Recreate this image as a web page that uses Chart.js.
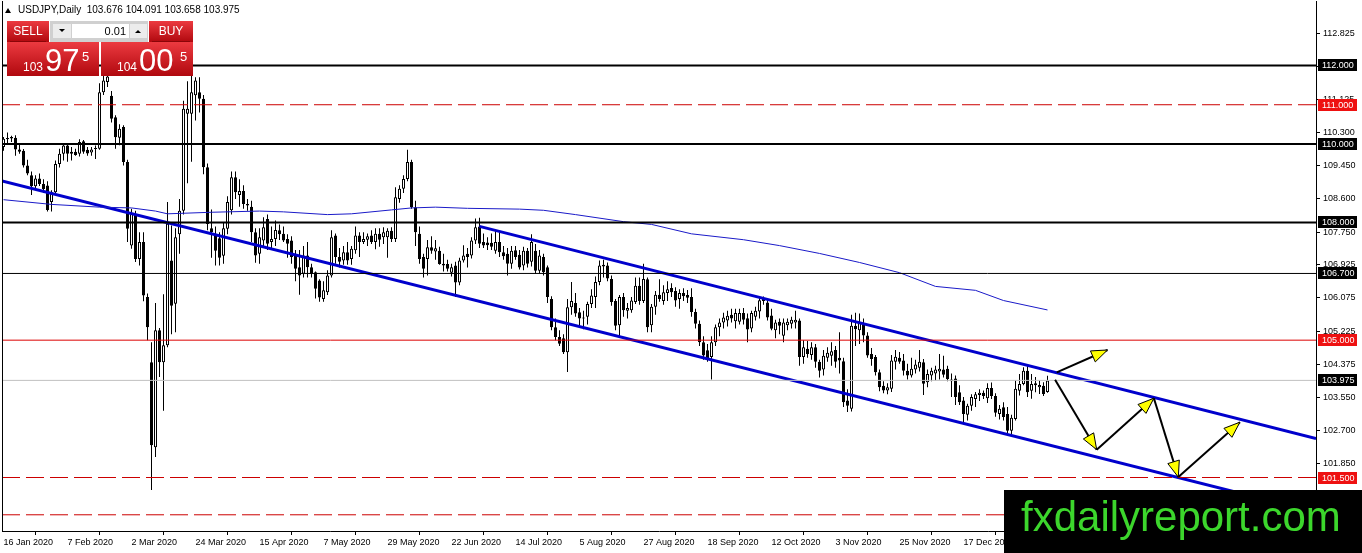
<!DOCTYPE html>
<html>
<head>
<meta charset="utf-8">
<script src="https://cdn.jsdelivr.net/npm/chart.js@4.4.1/dist/chart.umd.min.js"></script>
<style>
  html, body { margin: 0; padding: 0; background: #fff; }
  canvas { display: block; }
</style>
</head>
<body>
<canvas id="chart" width="1362" height="553"></canvas>
<script>
// USDJPY daily, 16 Jan 2020 .. mid Jan 2021
const opens = [
  109.92,110.12,110.14,110.16,109.86,109.83,109.45,109.20,108.92,109.12,
  108.98,108.94,108.52,108.77,109.49,109.75,109.96,109.75,109.80,109.75,
  110.07,109.85,109.78,109.87,109.88,111.32,111.58,111.23,110.68,110.16,
  110.43,109.54,107.41,108.22,107.07,107.50,106.10,104.44,102.27,105.25,
  104.44,104.87,107.03,105.93,107.70,108.30,110.77,110.77,111.24,111.32,
  111.15,109.41,107.85,107.71,107.60,107.15,107.84,108.31,109.15,108.70,
  108.80,108.47,108.40,107.75,107.20,107.54,108.09,107.50,107.58,107.80,
  107.71,107.58,107.54,107.20,106.86,106.69,107.16,106.86,106.73,106.52,
  106.05,106.22,106.65,107.67,107.12,107.03,107.24,107.07,107.29,107.67,
  107.50,107.56,107.67,107.50,107.71,107.62,107.62,107.79,107.58,108.60,
  108.86,109.11,109.54,108.39,107.71,107.12,107.07,107.37,107.26,107.28,
  106.95,106.94,106.72,106.90,106.47,107.03,107.20,107.16,107.54,107.90,
  107.50,107.49,107.48,107.28,107.50,107.24,107.20,106.95,107.29,107.18,
  106.90,107.28,107.00,107.28,106.77,107.12,106.86,106.05,105.33,105.08,
  105.05,104.69,105.84,105.95,105.71,105.55,105.60,105.92,106.10,106.48,
  106.88,106.90,106.56,106.00,105.38,106.10,105.75,105.76,105.97,106.39,
  106.00,106.55,105.38,105.85,106.16,106.00,106.20,106.33,106.25,106.05,
  106.20,106.15,106.10,105.72,105.42,104.95,104.74,104.57,104.95,105.33,
  105.45,105.50,105.65,105.48,105.47,105.69,105.56,105.30,105.60,105.73,
  106.00,105.96,105.63,105.25,105.47,105.11,105.38,105.42,105.45,105.50,
  104.57,104.78,104.62,104.82,104.45,104.25,104.55,104.60,104.75,104.55,
  104.46,103.46,103.25,105.37,105.25,105.40,105.12,104.65,104.57,104.18,
  103.84,103.72,103.76,104.45,104.55,104.48,104.22,104.10,104.25,104.30,
  104.44,103.93,104.10,104.15,104.20,104.25,104.27,104.00,104.02,103.67,
  103.46,103.10,103.33,103.50,103.60,103.66,103.52,103.78,103.58,103.12,
  103.29,103.12,102.69,102.99,103.71,103.88,104.22,103.71,103.90,103.80,
  103.84,103.676
];
const highs = [
  110.18,110.29,110.21,110.22,110.00,109.87,109.60,109.30,109.20,109.25,
  109.10,109.05,108.82,109.58,109.88,110.00,110.00,109.92,109.88,110.12,
  110.10,109.92,109.92,109.96,111.55,111.85,112.23,111.35,110.73,110.50,
  110.48,109.60,108.35,108.30,107.75,107.75,106.19,104.95,105.95,105.31,
  106.17,108.52,107.92,107.85,108.60,111.10,111.60,111.80,111.70,111.70,
  111.25,109.50,108.33,107.90,107.75,108.00,108.67,109.30,109.30,109.10,
  108.95,108.60,108.55,107.85,107.85,108.13,108.20,107.90,108.05,107.95,
  107.90,107.70,107.65,107.30,107.30,107.40,107.50,106.95,106.75,106.55,
  106.50,106.78,107.80,107.72,107.35,107.40,107.50,107.40,107.90,107.75,
  107.75,107.72,107.80,107.85,107.85,107.88,107.85,107.88,108.90,108.95,
  109.20,109.85,109.60,108.55,107.90,107.20,107.55,107.65,107.55,107.38,
  107.20,107.05,106.95,107.00,107.10,107.42,107.35,107.62,108.10,108.12,
  107.72,107.62,107.72,107.80,107.75,107.40,107.35,107.40,107.40,107.30,
  107.38,107.35,107.70,107.45,107.30,107.20,106.90,106.12,105.55,105.25,
  105.15,106.05,106.48,106.20,105.82,105.75,105.98,106.30,106.62,107.03,
  107.05,106.98,106.65,106.05,106.15,106.20,105.95,106.10,106.60,106.60,
  106.95,106.60,105.92,106.25,106.55,106.40,106.50,106.45,106.35,106.30,
  106.32,106.28,106.32,105.80,105.50,105.10,104.90,105.10,105.40,105.55,
  105.70,105.75,105.80,105.80,105.80,105.82,105.68,105.75,105.85,106.10,
  106.11,106.05,105.80,105.52,105.55,105.55,105.55,105.60,105.75,105.55,
  105.00,104.98,104.95,104.90,104.50,104.75,104.82,104.95,104.85,105.20,
  104.55,103.75,105.65,105.70,105.68,105.55,105.20,104.80,104.62,104.25,
  103.95,103.90,104.62,104.75,104.70,104.65,104.40,104.55,104.50,104.75,
  104.52,104.25,104.30,104.35,104.65,104.60,104.35,104.15,104.10,103.85,
  103.55,103.38,103.62,103.68,103.75,103.72,103.90,103.92,103.65,103.35,
  103.42,103.30,103.10,103.97,104.14,104.31,104.36,104.14,104.06,103.97,
  103.93,104.091
];
const lows = [
  109.83,110.02,110.05,109.70,109.75,109.40,109.20,108.70,108.85,108.93,
  108.75,108.28,108.28,108.72,109.40,109.58,109.55,109.58,109.70,109.68,
  109.75,109.70,109.70,109.62,109.85,111.25,111.45,110.55,109.88,109.97,
  109.45,107.50,107.33,106.99,106.90,105.99,105.00,101.18,102.02,104.06,
  103.20,104.82,105.15,105.20,107.20,108.20,109.00,109.55,110.60,110.80,
  109.23,107.80,107.10,106.90,106.90,106.95,107.70,108.20,108.60,108.40,
  108.35,108.30,107.50,106.97,106.95,107.35,107.30,107.35,107.40,107.55,
  107.50,107.10,106.95,106.50,106.16,106.60,106.60,106.60,106.06,105.98,
  105.98,106.15,106.60,106.95,106.85,106.92,106.92,106.92,107.20,107.12,
  107.45,107.40,107.45,107.32,107.38,107.45,107.10,107.50,107.50,108.50,
  108.75,109.05,108.35,107.40,106.95,106.60,106.65,107.20,107.05,106.92,
  106.75,106.75,106.62,106.10,106.40,106.98,106.85,107.08,107.45,107.35,
  107.35,107.30,107.30,107.20,107.12,107.05,106.65,106.82,107.05,106.80,
  106.78,106.85,106.88,106.70,106.70,106.65,105.95,105.25,105.00,104.85,
  104.65,104.19,105.65,105.60,105.35,105.28,105.40,105.82,105.82,106.40,
  106.60,106.50,105.88,105.25,105.10,105.60,105.55,105.70,105.92,105.90,
  105.95,105.20,105.20,105.65,105.98,105.90,106.00,106.10,105.85,105.80,
  106.00,105.95,105.60,105.30,104.85,104.50,104.45,104.00,104.85,105.10,
  105.30,105.35,105.45,105.30,105.40,105.40,104.95,105.20,105.50,105.55,
  105.90,105.50,105.25,105.05,105.15,104.95,105.25,105.30,105.30,104.35,
  104.40,104.55,104.50,104.30,104.05,104.10,104.45,104.35,104.30,104.15,
  103.30,103.17,103.18,104.85,104.90,104.95,104.55,104.35,104.10,103.70,
  103.65,103.62,103.68,104.25,104.40,104.10,104.00,104.05,104.15,104.20,
  103.60,103.80,103.95,103.98,104.00,104.05,103.95,103.55,103.35,103.35,
  102.88,102.95,103.20,103.30,103.45,103.50,103.40,103.50,103.05,102.98,
  102.95,102.62,102.60,102.95,103.59,103.85,103.55,103.51,103.67,103.63,
  103.58,103.658
];
const closes = [
  110.13,110.15,110.18,109.86,109.80,109.45,109.25,108.92,109.12,108.98,
  108.85,108.32,108.77,109.49,109.75,109.96,109.75,109.80,109.72,110.05,
  109.80,109.76,109.86,109.90,111.32,111.62,111.72,110.64,110.17,110.39,
  109.54,107.84,108.22,107.07,107.50,106.14,105.33,102.32,105.25,104.44,
  104.87,107.97,105.88,107.62,108.30,110.90,110.90,111.32,111.62,111.15,
  109.41,107.96,107.75,107.28,107.10,107.85,108.52,109.15,108.77,108.80,
  108.47,108.43,107.75,107.16,107.62,107.88,107.46,107.58,107.81,107.70,
  107.54,107.46,107.12,106.82,106.65,107.16,106.86,106.69,106.31,106.09,
  106.27,106.65,107.62,107.12,107.00,107.24,107.03,107.33,107.67,107.50,
  107.58,107.65,107.50,107.71,107.56,107.75,107.79,107.58,108.64,108.86,
  109.11,109.54,108.39,107.75,107.07,106.82,107.37,107.28,107.34,106.94,
  106.90,106.82,106.86,106.47,107.03,107.16,107.12,107.54,107.88,107.46,
  107.41,107.42,107.38,107.50,107.24,107.14,106.95,107.28,107.12,106.85,
  107.28,106.95,107.50,106.77,107.16,106.73,106.10,105.33,105.08,104.91,
  104.69,105.84,106.00,105.68,105.55,105.58,105.92,106.14,106.48,106.90,
  106.92,106.57,105.97,105.37,106.10,105.76,105.82,106.01,106.39,106.00,
  106.56,105.33,105.85,106.16,106.05,106.22,106.30,106.22,106.01,106.20,
  106.12,106.08,105.72,105.42,104.95,104.61,104.53,104.95,105.33,105.45,
  105.58,105.62,105.55,105.69,105.69,105.52,105.27,105.69,105.75,106.02,
  106.05,105.58,105.29,105.45,105.37,105.45,105.47,105.52,105.52,104.57,
  104.82,104.65,104.82,104.45,104.22,104.60,104.68,104.72,104.45,104.48,
  103.42,103.33,105.37,105.28,105.45,105.12,104.61,104.52,104.18,103.80,
  103.72,103.80,104.48,104.58,104.45,104.22,104.10,104.27,104.38,104.45,
  103.89,104.14,104.22,104.25,104.27,104.12,104.01,103.95,103.55,103.42,
  103.12,103.33,103.55,103.62,103.66,103.58,103.78,103.58,103.15,103.25,
  103.04,102.69,103.02,103.76,103.88,104.22,103.67,103.88,103.85,103.86,
  103.63,103.975
];

// moving average, sampled along its path (bar index, price)
const maIdx = [0, 12, 24, 32, 38, 41, 52, 64, 70, 81, 87, 97, 102, 108, 116, 129, 135, 143, 155, 162, 172, 185, 194, 204, 214, 224, 233, 243, 250, 261];
const maVal = [108.58, 108.46, 108.39, 108.37, 108.29, 108.22, 108.26, 108.29, 108.27, 108.20, 108.22, 108.32, 108.37, 108.39, 108.36, 108.34, 108.31, 108.20, 108.02, 107.95, 107.71, 107.56, 107.41, 107.21, 106.98, 106.72, 106.37, 106.27, 106.01, 105.77];

// date labels every 16 bars
const dateIdx = [0, 16, 32, 48, 64, 80, 96, 112, 128, 144, 160, 176, 192, 208, 224, 240];
const dateLabels = ['16 Jan 2020', '7 Feb 2020', '2 Mar 2020', '24 Mar 2020', '15 Apr 2020', '7 May 2020', '29 May 2020', '22 Jun 2020', '14 Jul 2020', '5 Aug 2020', '27 Aug 2020', '18 Sep 2020', '12 Oct 2020', '3 Nov 2020', '25 Nov 2020', '17 Dec 2020'];

// price scale ticks
const priceTicks = [112.825, 111.975, 111.125, 110.300, 109.450, 108.600, 107.750, 106.925, 106.075, 105.225, 104.375, 103.550, 102.700, 101.850];

// horizontal levels
const levelPrices = [112.000, 111.000, 110.000, 108.000, 106.700, 105.000, 103.975, 101.500, 100.550];

// trend channel (bar index, price)
const upperChannel = [[119, 107.90], [328.125, 102.49]];
const lowerChannel = [[-0.375, 109.06], [328.125, 100.615]];

// projected path arrows (bar index, price): from -> to
const arrowPaths = [
  [[263.3, 104.18], [276.0, 104.75]],
  [[262.9, 103.99], [273.3, 102.21]],
  [[273.3, 102.21], [287.6, 103.52]],
  [[287.6, 103.52], [293.7, 101.51]],
  [[293.7, 101.51], [309.1, 102.91]]
];

// ---------- styles ----------
const levelStyles = [
  { color: '#000000', width: 2, dash: [], tag: '#000000' },
  { color: '#cc0000', width: 1, dash: [18, 6], tag: '#ee1111' },
  { color: '#000000', width: 2, dash: [], tag: '#000000' },
  { color: '#000000', width: 2, dash: [], tag: '#000000' },
  { color: '#000000', width: 1, dash: [], tag: '#000000' },
  { color: '#dd0000', width: 1, dash: [], tag: '#ee1111' },
  { color: '#c0c0c0', width: 1, dash: [], tag: '#000000' },
  { color: '#cc0000', width: 1, dash: [18, 6], tag: '#ee1111' },
  { color: '#cc0000', width: 1, dash: [18, 6], tag: null }
];

const xMin = -0.375, xMax = 328.125;
const yMin = 100.1367, yMax = 113.6437;

Chart.defaults.font.family = '"Liberation Sans", Arial, sans-serif';
Chart.defaults.font.size = 9;
Chart.defaults.color = '#000';

const isUp = i => closes[i] >= opens[i];

const datasets = [];

// level lines
levelPrices.forEach((p, k) => {
  const st = levelStyles[k];
  datasets.push({
    type: 'line', order: 1,
    data: [{ x: xMin, y: p }, { x: xMax, y: p }],
    borderColor: st.color, borderWidth: st.width, borderDash: st.dash,
    pointRadius: 0, fill: false
  });
});

// moving average
datasets.push({
  type: 'line', order: 1,
  data: maIdx.map((x, k) => ({ x: x, y: maVal[k] })),
  borderColor: '#1a1ac8', borderWidth: 1, pointRadius: 0, fill: false, tension: 0
});

// channel lines
[upperChannel, lowerChannel].forEach(line => {
  datasets.push({
    type: 'line', order: 1,
    data: line.map(p => ({ x: p[0], y: p[1] })),
    borderColor: '#0000cc', borderWidth: 3, pointRadius: 0, fill: false
  });
});

// arrows
arrowPaths.forEach(path => {
  datasets.push({
    type: 'line', order: 0, arrow: true,
    data: path.map(p => ({ x: p[0], y: p[1] })),
    borderColor: '#000000', borderWidth: 2, pointRadius: 0, fill: false
  });
});

// candle bodies
datasets.push({
  type: 'bar', order: 2, grouped: false,
  data: opens.map((o, i) => ({ x: i, y: [o, closes[i]] })),
  barThickness: 3,
  backgroundColor: c => isUp(c.dataIndex) ? '#ffffff' : '#000000',
  borderColor: '#000000', borderWidth: 1, borderSkipped: false,
  inflateAmount: 0, minBarLength: 1
});

// candle wicks
datasets.push({
  type: 'bar', order: 3, grouped: false,
  data: lows.map((l, i) => ({ x: i, y: [l, highs[i]] })),
  barThickness: 1, backgroundColor: '#000000', borderWidth: 0, inflateAmount: 0
});

// yellow arrow heads at the end of each arrow line
const arrowHeads = {
  id: 'arrowHeads',
  afterDatasetsDraw(chart) {
    const ctx = chart.ctx;
    chart.data.datasets.forEach((ds, di) => {
      if (!ds.arrow) return;
      const pts = chart.getDatasetMeta(di).data;
      const a = pts[0], b = pts[1];
      const ang = Math.atan2(b.y - a.y, b.x - a.x);
      const len = 16, half = 6;
      const bx = b.x - len * Math.cos(ang), by = b.y - len * Math.sin(ang);
      const px = -Math.sin(ang) * half, py = Math.cos(ang) * half;
      ctx.save();
      ctx.beginPath();
      ctx.moveTo(b.x, b.y);
      ctx.lineTo(bx + px, by + py);
      ctx.lineTo(bx - px, by - py);
      ctx.closePath();
      ctx.fillStyle = '#ffff00';
      ctx.fill();
      ctx.lineWidth = 1;
      ctx.strokeStyle = '#000';
      ctx.stroke();
      ctx.restore();
    });
  }
};

function redBox(ctx, x, y, w, h) {
  const g = ctx.createLinearGradient(0, y, 0, y + h);
  g.addColorStop(0, '#ec3a40');
  g.addColorStop(1, '#b0080e');
  ctx.fillStyle = g;
  ctx.fillRect(x, y, w, h);
}

const overlay = {
  id: 'overlay',
  afterDraw(chart) {
    const ctx = chart.ctx;
    const ys = chart.scales.y;
    const area = chart.chartArea;
    ctx.save();

    // left frame line
    ctx.fillStyle = '#000';
    ctx.fillRect(area.left, area.top, 1, area.bottom - area.top);

    // price tags on the right scale
    ctx.font = '9px "Liberation Sans", Arial, sans-serif';
    ctx.textBaseline = 'middle';
    ctx.textAlign = 'left';
    levelPrices.forEach((p, k) => {
      const tag = levelStyles[k].tag;
      if (!tag) return;
      const py = Math.round(ys.getPixelForValue(p));
      ctx.fillStyle = tag;
      ctx.fillRect(1318, py - 6, 39, 12);
      ctx.fillStyle = '#fff';
      ctx.fillText(p.toFixed(3), 1322, py + 0.5);
    });

    // header
    ctx.fillStyle = '#000';
    ctx.beginPath();
    ctx.moveTo(5, 13); ctx.lineTo(11, 13); ctx.lineTo(8, 8); ctx.closePath();
    ctx.fill();
    ctx.font = '10px "Liberation Sans", Arial, sans-serif';
    ctx.fillText('USDJPY,Daily  103.676 104.091 103.658 103.975', 18, 10.5);

    // one-click trading panel
    redBox(ctx, 7, 21, 42, 21);
    redBox(ctx, 149, 21, 44, 21);
    redBox(ctx, 7, 42, 92, 34);
    redBox(ctx, 101, 42, 92, 34);
    ctx.fillStyle = '#8a0508';
    ctx.fillRect(10, 41, 36, 1);
    ctx.fillRect(152, 41, 38, 1);

    ctx.fillStyle = '#d0d0d0';
    ctx.fillRect(50, 21, 98, 21);
    ctx.fillStyle = '#ececec';
    ctx.fillRect(53, 24, 18, 14);
    ctx.fillRect(130, 24, 17, 14);
    ctx.fillStyle = '#ffffff';
    ctx.fillRect(72, 24, 57, 14);
    ctx.fillStyle = '#000';
    ctx.beginPath();
    ctx.moveTo(59, 29); ctx.lineTo(65, 29); ctx.lineTo(62, 32); ctx.closePath(); ctx.fill();
    ctx.beginPath();
    ctx.moveTo(135, 33); ctx.lineTo(141, 33); ctx.lineTo(138, 30); ctx.closePath(); ctx.fill();
    ctx.font = '11px "Liberation Sans", Arial, sans-serif';
    ctx.textAlign = 'right';
    ctx.fillText('0.01', 126, 31.5);

    ctx.fillStyle = '#fff';
    ctx.textAlign = 'center';
    ctx.font = '12px "Liberation Sans", Arial, sans-serif';
    ctx.fillText('SELL', 28, 32);
    ctx.fillText('BUY', 171, 32);

    ctx.textAlign = 'left';
    ctx.textBaseline = 'alphabetic';
    ctx.font = '12px "Liberation Sans", Arial, sans-serif';
    ctx.fillText('103', 23, 71);
    ctx.fillText('104', 117, 71);
    ctx.font = '31px "Liberation Sans", Arial, sans-serif';
    ctx.fillText('97', 45, 71);
    ctx.fillText('00', 139, 71);
    ctx.font = '13px "Liberation Sans", Arial, sans-serif';
    ctx.fillText('5', 82, 61);
    ctx.fillText('5', 180, 61);

    // watermark
    ctx.fillStyle = '#000';
    ctx.fillRect(1004, 490, 358, 63);
    ctx.fillStyle = '#3cd62c';
    ctx.font = '42px "Liberation Sans", Arial, sans-serif';
    ctx.fillText('fxdailyreport.com', 1021, 531);

    ctx.restore();
  }
};

new Chart(document.getElementById('chart'), {
  type: 'bar',
  data: { datasets: datasets },
  plugins: [arrowHeads, overlay],
  options: {
    responsive: false,
    animation: false,
    devicePixelRatio: 1,
    events: [],
    layout: { padding: { left: 2, top: 1, right: 0, bottom: 0 } },
    plugins: { legend: { display: false }, tooltip: { enabled: false } },
    scales: {
      x: {
        type: 'linear', min: xMin, max: xMax, offset: false,
        grid: { drawOnChartArea: false, drawTicks: true, tickLength: 4, color: '#000' },
        border: { display: true, color: '#000', width: 1 },
        ticks: {
          autoSkip: false, maxRotation: 0, minRotation: 0, align: 'start', padding: 2,
          font: { size: 9 }, color: '#000',
          callback: (v, k) => dateLabels[k]
        },
        afterBuildTicks: s => { s.ticks = dateIdx.map(v => ({ value: v })); },
        afterFit: s => { s.height = 22; s.paddingLeft = 0; s.paddingRight = 0; }
      },
      y: {
        type: 'linear', position: 'right', min: yMin, max: yMax,
        grid: { drawOnChartArea: false, drawTicks: true, tickLength: 4, color: '#000' },
        border: { display: true, color: '#000', width: 1 },
        ticks: {
          padding: 3, font: { size: 9 }, color: '#000',
          callback: v => v.toFixed(3)
        },
        afterBuildTicks: s => { s.ticks = priceTicks.map(v => ({ value: v })); },
        afterFit: s => { s.width = 46; s.paddingTop = 0; s.paddingBottom = 0; }
      }
    }
  }
});
</script>
</body>
</html>
